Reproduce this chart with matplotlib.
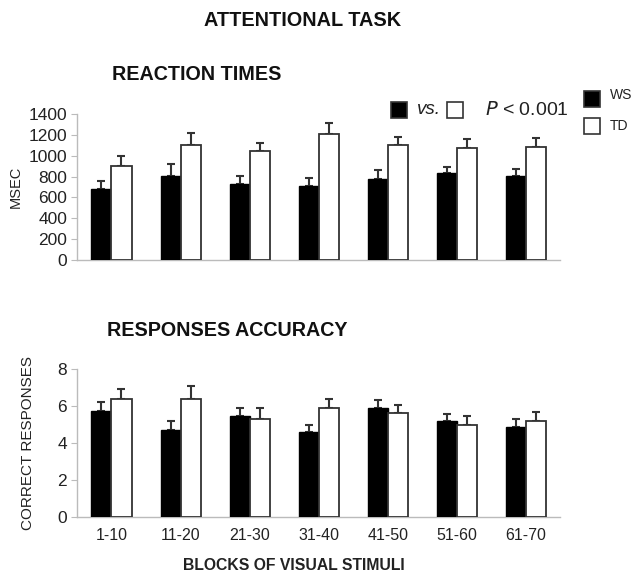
import numpy as np
import matplotlib
matplotlib.use("Agg")
import matplotlib.pyplot as plt
from matplotlib.patches import Rectangle

plt.rcParams['font.family'] = ['Liberation Sans', 'DejaVu Sans']

blocks = ['1-10', '11-20', '21-30', '31-40', '41-50', '51-60', '61-70']

# reaction times (msec)
rt_ws = [680, 805, 725, 710, 780, 830, 805]
rt_ws_err = [80, 115, 83, 75, 83, 58, 64]
rt_td = [905, 1103, 1048, 1205, 1103, 1077, 1084]
rt_td_err = [87, 112, 77, 106, 74, 83, 86]

# correct responses
acc_ws = [5.69, 4.69, 5.42, 4.59, 5.87, 5.15, 4.86]
acc_ws_err = [0.50, 0.51, 0.45, 0.36, 0.43, 0.40, 0.45]
acc_td = [6.39, 6.39, 5.31, 5.87, 5.60, 4.95, 5.15]
acc_td_err = [0.53, 0.69, 0.56, 0.49, 0.45, 0.47, 0.52]

fig = plt.figure(figsize=(6.36, 5.78), dpi=100)
ax1 = fig.add_axes([0.121, 0.550, 0.760, 0.253])
ax2 = fig.add_axes([0.121, 0.106, 0.760, 0.256])

x = np.arange(len(blocks))
w = 0.29
edge = '#333333'
spine_col = '#bbbbbb'
txt = '#222222'


def draw(ax, ws, ws_err, td, td_err, ymax, step):
    ax.bar(x - w / 2, ws, w, color='black', edgecolor='black', linewidth=1, zorder=3)
    ax.bar(x + w / 2, td, w, color='white', edgecolor=edge, linewidth=1.3, zorder=3)
    ax.errorbar(x - w / 2, ws, yerr=[np.zeros(len(ws)), ws_err], fmt='none',
                ecolor=edge, elinewidth=1.5, capsize=3, capthick=1.5, zorder=2)
    ax.errorbar(x + w / 2, td, yerr=[np.zeros(len(td)), td_err], fmt='none',
                ecolor=edge, elinewidth=1.5, capsize=3, capthick=1.5, zorder=2)
    ax.set_xlim(-0.5, 6.5)
    ax.set_ylim(0, ymax)
    ax.set_yticks(np.arange(0, ymax + step / 2, step))
    for s in ['top', 'right']:
        ax.spines[s].set_visible(False)
    for s in ['left', 'bottom']:
        ax.spines[s].set_color(spine_col)
        ax.spines[s].set_linewidth(1)
    ax.tick_params(axis='y', colors=spine_col, labelcolor=txt,
                   labelsize=12.5, length=4, pad=3)
    ax.tick_params(axis='x', length=0, labelsize=11.5, labelcolor=txt, pad=8)


draw(ax1, rt_ws, rt_ws_err, rt_td, rt_td_err, 1400, 200)
ax1.set_xticks(x)
ax1.set_xticklabels([])
ax1.set_ylabel('MSEC', fontsize=10.5, color=txt, labelpad=4)

draw(ax2, acc_ws, acc_ws_err, acc_td, acc_td_err, 8, 2)
ax2.set_xticks(x)
ax2.set_xticklabels(blocks)
ax2.set_ylabel('CORRECT RESPONSES', fontsize=11, color=txt, labelpad=16)

# titles
fig.text(303 / 636, 1 - 20 / 578, 'ATTENTIONAL TASK', ha='center', va='center',
         fontsize=14.3, fontweight='bold', color='#111111')
fig.text(112 / 636, 1 - 75 / 578, 'REACTION TIMES', ha='left', va='center',
         fontsize=14.2, fontweight='bold', color='#111111')
fig.text(107 / 636, 1 - 330 / 578, 'RESPONSES ACCURACY', ha='left', va='center',
         fontsize=14.2, fontweight='bold', color='#111111')
fig.text(294 / 636, 1 - 566 / 578, 'BLOCKS OF VISUAL STIMULI', ha='center', va='center',
         fontsize=11.3, fontweight='bold', color=txt)

# significance key
def square(px, py, face):
    fig.patches.append(Rectangle((px / 636, 1 - (py + 16) / 578), 16 / 636, 16 / 578,
                                 transform=fig.transFigure, facecolor=face,
                                 edgecolor=edge, linewidth=1.2))

square(391, 102, 'black')
fig.text(417 / 636, 1 - 110 / 578, 'vs.', ha='left', va='center', fontsize=13.5,
         style='italic', color=txt)
square(447, 102, 'white')
fig.text(485 / 636, 1 - 110 / 578, '$P$ < 0.001', ha='left', va='center', fontsize=14,
         color=txt)

# legend
square(584, 91, 'black')
fig.text(610 / 636, 1 - 95 / 578, 'WS', ha='left', va='center', fontsize=10, color=txt)
square(584, 118, 'white')
fig.text(610 / 636, 1 - 126 / 578, 'TD', ha='left', va='center', fontsize=10, color=txt)

fig.savefig('out.png', dpi=100)
